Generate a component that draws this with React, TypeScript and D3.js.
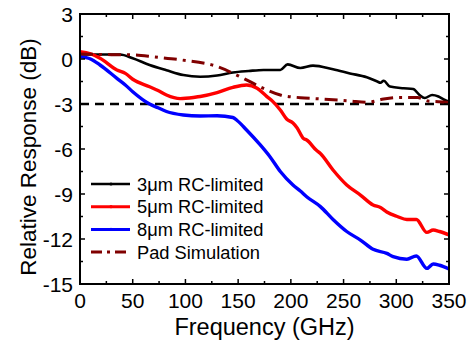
import React from "react";
import * as d3 from "d3";

const xTicks = [0, 50, 100, 150, 200, 250, 300, 350];
const yTicks = [3, 0, -3, -6, -9, -12, -15];

const f3 = [0, 10, 20, 30, 38, 50, 66, 82, 98, 114, 130, 145, 160, 174, 190, 197, 209, 221, 240, 256, 272, 282, 285, 288, 294, 307, 316, 322, 327, 334, 340, 345, 350];
const r3 = [0.3, 0.3, 0.3, 0.3, 0.3, 0.05, -0.4, -0.75, -1.07, -1.18, -1.1, -0.9, -0.8, -0.73, -0.73, -0.36, -0.6, -0.44, -0.69, -0.96, -1.22, -1.5, -1.58, -1.45, -1.84, -1.95, -2.0, -2.4, -2.6, -2.4, -2.5, -2.7, -2.85];

const f5 = [0, 10, 19, 35, 43, 50, 66, 74, 82, 95, 109, 114, 130, 145, 158, 168, 177, 183, 190, 196, 202, 206, 212, 215, 224, 228, 240, 253, 266, 278, 285, 291, 301, 310, 319, 329, 335, 341, 350];
const r5 = [0.49, 0.35, 0.05, -0.73, -0.96, -1.35, -1.85, -2.1, -2.4, -2.64, -2.55, -2.5, -2.24, -1.89, -1.73, -1.95, -2.49, -2.84, -3.4, -4.0, -4.27, -4.6, -5.3, -5.4, -6.07, -6.3, -7.4, -8.4, -9.07, -9.73, -9.9, -10.2, -10.5, -10.7, -10.7, -11.56, -11.4, -11.5, -11.73];

const f8 = [0, 10, 19, 35, 43, 50, 66, 74, 82, 98, 114, 130, 145, 149, 158, 171, 180, 190, 202, 209, 215, 228, 240, 253, 266, 278, 291, 297, 310, 319, 329, 335, 341, 350];
const r8 = [0.16, 0.0, -0.4, -1.29, -1.73, -2.18, -3.0, -3.25, -3.5, -3.73, -3.8, -3.78, -3.9, -4.1, -4.73, -5.73, -6.5, -7.5, -8.4, -8.8, -9.18, -9.84, -10.7, -11.5, -12.07, -12.69, -12.96, -13.18, -13.35, -13.13, -13.96, -13.67, -13.75, -14.0];

const fPad = [0, 20, 52, 71, 97, 130, 155, 174, 190, 209, 225, 256, 272, 288, 304, 320, 330, 340, 350];
const rPad = [0.33, 0.3, 0.27, 0.13, -0.07, -0.5, -1.29, -1.96, -2.4, -2.58, -2.65, -2.8, -2.89, -2.67, -2.56, -2.56, -2.8, -2.85, -2.9];

const refLevel = -3;

const seriesNames = ["3\u03bcm RC-limited", "5\u03bcm RC-limited", "8\u03bcm RC-limited", "Pad Simulation"];
const colors = ["#000000", "#ff0000", "#0000ff", "#800000"];

export default function App() {
  const W = 474, H = 346;
  const L = 80, R = 449, T = 14, B = 284;
  const x = d3.scaleLinear().domain([0, 350]).range([L, R]);
  const y = d3.scaleLinear().domain([-15, 3]).range([B, T]);
  const line = d3
    .line<[number, number]>()
    .x((d) => x(d[0]))
    .y((d) => y(d[1]))
    .curve(d3.curveMonotoneX);
  const zip = (a: number[], b: number[]) => a.map((v, i) => [v, b[i]] as [number, number]);
  const data = [zip(f3, r3), zip(f5, r5), zip(f8, r8), zip(fPad, rPad)];
  const widths = [2.6, 3.4, 3.4, 3];
  const font = "Arial, 'Liberation Sans', sans-serif";

  const xMinor = d3.range(0, 351, 25);
  const yMinor = d3.range(-15, 3.01, 1.5);

  return (
    <svg width={W} height={H} style={{ position: "absolute", left: 0, top: 0 }} fontFamily={font}>
      <rect width={W} height={H} fill="#fff" />
      <line x1={L} x2={R} y1={y(refLevel)} y2={y(refLevel)} stroke="#000" strokeWidth={2.6} strokeDasharray="9,6" />
      {data.map((d, i) => (
        <path
          key={i}
          d={line(d) || ""}
          fill="none"
          stroke={colors[i]}
          strokeWidth={widths[i]}
          strokeDasharray={i === 3 ? "13,6,3,6" : undefined}
          strokeLinejoin="round"
        />
      ))}
      {xMinor.map((v, i) => {
        const len = v % 50 === 0 ? 5 : 3;
        return (
          <g key={"xt" + i} stroke="#000" strokeWidth={1.5}>
            <line x1={x(v)} x2={x(v)} y1={B} y2={B - len} />
            <line x1={x(v)} x2={x(v)} y1={T} y2={T + len} />
          </g>
        );
      })}
      {yMinor.map((v, i) => {
        const len = Math.abs(v % 3) < 1e-6 ? 5 : 3;
        return (
          <g key={"yt" + i} stroke="#000" strokeWidth={1.5}>
            <line x1={L} x2={L + len} y1={y(v)} y2={y(v)} />
            <line x1={R} x2={R - len} y1={y(v)} y2={y(v)} />
          </g>
        );
      })}
      <rect x={L} y={T} width={R - L} height={B - T} fill="none" stroke="#000" strokeWidth={2} />
      {xTicks.map((v) => (
        <text key={"xl" + v} x={x(v)} y={308} textAnchor="middle" fontSize={21}>
          {v}
        </text>
      ))}
      {yTicks.map((v) => (
        <text key={"yl" + v} x={73} y={y(v)} dy="0.36em" textAnchor="end" fontSize={21}>
          {v}
        </text>
      ))}
      <text x={(L + R) / 2} y={335} textAnchor="middle" fontSize={23.5}>
        Frequency (GHz)
      </text>
      <text transform={`translate(36,${(T + B) / 2 + 8}) rotate(-90)`} textAnchor="middle" fontSize={22.5}>
        Relative Response (dB)
      </text>
      {seriesNames.map((n, i) => {
        const ly = 184 + i * 22.7;
        return (
          <g key={"lg" + i}>
            <line x1={91} x2={130} y1={ly} y2={ly} stroke={colors[i]} strokeWidth={i === 0 ? 2.6 : 3} strokeDasharray={i === 3 ? "11,5,3,5" : undefined} />
            {i < 3 && <circle cx={111} cy={ly} r={1.6} fill={colors[i]} />}
            <text x={137} y={ly} dy="0.36em" fontSize={18.3}>
              {n}
            </text>
          </g>
        );
      })}
    </svg>
  );
}
